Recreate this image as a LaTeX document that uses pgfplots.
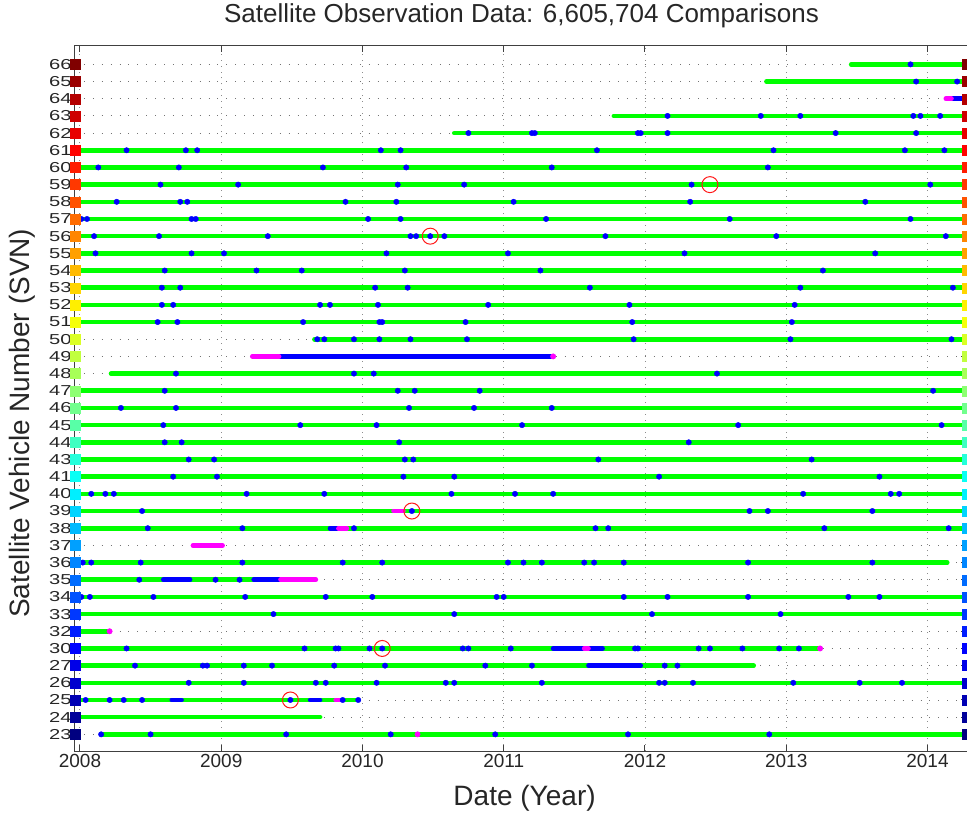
\documentclass[border=0pt]{standalone}
\usepackage{fontspec}
\setmainfont{Liberation Sans}
\newfontfamily\ytfont[FakeStretch=1.4]{Liberation Sans}
\usepackage{pgfplots}
\usepackage{pgfplotstable}
\pgfplotsset{compat=1.18}
\definecolor{txt}{rgb}{0.15,0.15,0.15}
\definecolor{lgreen}{rgb}{0,1,0}
\definecolor{dblue}{rgb}{0,0,1}
\definecolor{mag}{rgb}{1,0,1}
\pgfplotstableread{
y
0
1
2
3
4
5
6
7
8
9
10
11
12
13
14
15
16
17
18
19
20
21
22
23
24
25
26
27
28
29
30
31
32
33
34
35
36
37
38
39
}\rowidx
\begin{document}
\begin{tikzpicture}
\begin{axis}[
 scale only axis, width=892pt, height=705pt,
 xmin=2007.965, xmax=2014.28, ymin=-0.97, ymax=40.07,
 unbounded coords=jump,
 xtick={2008,2009,2010,2011,2012,2013,2014},
 xticklabels={2008,2009,2010,2011,2012,2013,2014},
 ytick={0,...,39},
 yticklabels={23,24,25,26,27,30,32,33,34,35,36,37,38,39,40,41,43,44,45,46,47,48,49,50,51,52,53,54,55,56,57,58,59,60,61,62,63,64,65,66},
 tick align=inside, major tick length=6pt,
 tick style={black!75, line width=1pt},
 axis line style={black!75, line width=1pt},
 xmajorgrids, ymajorgrids,
 x grid style={black!45, line width=0.9pt, dash pattern=on 0.9pt off 5pt},
 y grid style={black!55, line width=0.9pt, dash pattern=on 0.9pt off 8pt},
 xticklabel style={font=\fontsize{19}{22}\selectfont, text=txt},
 yticklabel style={font=\ytfont\fontsize{14.4}{16}\selectfont, text=txt},
 title={Satellite Observation Data: 6,605,704 Comparisons},
 title style={font=\fontsize{26}{30}\selectfont, text=txt, at={(axis description cs:0.5006,1.0255)}, anchor=base, inner sep=0pt},
 xlabel={Date (Year)}, ylabel={Satellite Vehicle Number (SVN)},
 xlabel style={font=\fontsize{28}{32}\selectfont, text=txt, at={(axis description cs:0.504,-0.0766)}, anchor=base, inner sep=0pt},
 ylabel style={font=\fontsize{28}{32}\selectfont, text=txt, at={(axis description cs:-0.0594,0.465)}, anchor=center, inner sep=0pt},
 colormap/jet, point meta min=0, point meta max=39,
]
% green observation spans
\addplot[lgreen, line width=4.6pt, line cap=round] table[x=x,y=y]{
x y
2013.46 39
2014.25 39
nan nan
2012.86 38
2014.25 38
nan nan
2011.78 36
2014.25 36
nan nan
2010.65 35
2014.25 35
nan nan
2008.0 34
2014.25 34
nan nan
2008.0 33
2014.25 33
nan nan
2008.0 32
2014.25 32
nan nan
2008.0 31
2014.25 31
nan nan
2008.0 30
2014.25 30
nan nan
2008.0 29
2014.25 29
nan nan
2008.0 28
2014.25 28
nan nan
2008.0 27
2014.25 27
nan nan
2008.0 26
2014.25 26
nan nan
2008.0 25
2014.25 25
nan nan
2008.0 24
2014.25 24
nan nan
2009.66 23
2014.25 23
nan nan
2008.22 21
2014.25 21
nan nan
2008.0 20
2014.25 20
nan nan
2008.0 19
2014.25 19
nan nan
2008.0 18
2014.25 18
nan nan
2008.0 17
2014.25 17
nan nan
2008.0 16
2014.25 16
nan nan
2008.0 15
2014.25 15
nan nan
2008.0 14
2014.25 14
nan nan
2008.0 13
2014.25 13
nan nan
2008.0 12
2014.25 12
nan nan
2008.0 10
2014.14 10
nan nan
2008.0 9
2009.30 9
nan nan
2008.0 8
2014.25 8
nan nan
2008.0 7
2014.25 7
nan nan
2008.0 6
2008.21 6
nan nan
2008.0 5
2013.24 5
nan nan
2008.0 4
2012.77 4
nan nan
2008.0 3
2014.25 3
nan nan
2008.0 2
2009.97 2
nan nan
2008.0 1
2009.70 1
nan nan
2008.15 0
2014.25 0
};
% blue spans
\addplot[dblue, line width=4.6pt, line cap=round] table[x=x,y=y]{
x y
2014.17 37
2014.25 37
nan nan
2009.41 22
2011.34 22
nan nan
2009.77 12
2009.83 12
nan nan
2008.59 9
2008.78 9
nan nan
2009.23 9
2009.42 9
nan nan
2011.35 5
2011.57 5
nan nan
2011.60 5
2011.70 5
nan nan
2011.60 4
2011.97 4
nan nan
2008.65 2
2008.72 2
nan nan
2009.63 2
2009.70 2
};
% magenta spans
\addplot[mag, line width=4.6pt, line cap=round] table[x=x,y=y]{
x y
2014.13 37
2014.17 37
nan nan
2009.22 22
2009.41 22
nan nan
2010.22 13
2010.29 13
nan nan
2009.83 12
2009.89 12
nan nan
2008.80 11
2009.01 11
nan nan
2009.42 9
2009.67 9
nan nan
2011.57 5
2011.60 5
nan nan
2009.81 2
2009.85 2
};
% blue points
\addplot[only marks, mark=*, mark size=2.7pt, mark options={draw=dblue, fill=dblue}] table[x=x,y=y]{
x y
2013.88 39
2013.92 38
2014.21 38
2012.16 36
2012.82 36
2013.10 36
2013.90 36
2013.95 36
2014.09 36
2010.75 35
2011.20 35
2011.22 35
2011.95 35
2011.97 35
2012.16 35
2013.35 35
2013.92 35
2008.33 34
2008.75 34
2008.83 34
2010.13 34
2010.27 34
2011.66 34
2012.91 34
2013.84 34
2014.12 34
2008.13 33
2008.70 33
2009.72 33
2010.31 33
2011.34 33
2012.87 33
2008.57 32
2009.12 32
2010.25 32
2010.72 32
2012.33 32
2014.02 32
2008.26 31
2008.71 31
2008.76 31
2009.88 31
2010.24 31
2011.07 31
2012.32 31
2013.56 31
2008.01 30
2008.05 30
2008.79 30
2008.82 30
2010.04 30
2010.27 30
2011.30 30
2012.60 30
2013.88 30
2008.10 29
2008.56 29
2009.33 29
2010.34 29
2010.38 29
2010.48 29
2010.58 29
2011.72 29
2012.93 29
2014.13 29
2008.11 28
2008.79 28
2009.02 28
2010.17 28
2011.03 28
2012.28 28
2013.63 28
2008.60 27
2009.25 27
2009.57 27
2010.30 27
2011.26 27
2013.26 27
2008.58 26
2008.71 26
2010.09 26
2010.32 26
2011.61 26
2013.10 26
2014.18 26
2008.58 25
2008.66 25
2009.70 25
2009.77 25
2010.11 25
2010.89 25
2011.89 25
2013.06 25
2008.55 24
2008.69 24
2009.58 24
2010.12 24
2010.14 24
2010.73 24
2011.91 24
2013.04 24
2009.68 23
2009.73 23
2009.94 23
2010.12 23
2010.34 23
2010.74 23
2011.92 23
2013.03 23
2014.17 23
2008.68 21
2009.94 21
2010.08 21
2012.51 21
2008.60 20
2010.25 20
2010.37 20
2010.83 20
2014.04 20
2008.29 19
2008.68 19
2010.33 19
2010.79 19
2011.34 19
2008.59 18
2009.56 18
2010.10 18
2011.13 18
2012.66 18
2014.10 18
2008.60 17
2008.72 17
2010.26 17
2012.31 17
2008.77 16
2008.95 16
2010.30 16
2010.36 16
2011.67 16
2013.18 16
2008.66 15
2008.97 15
2010.29 15
2010.65 15
2012.10 15
2013.66 15
2008.08 14
2008.18 14
2008.24 14
2009.18 14
2009.73 14
2010.63 14
2011.08 14
2011.35 14
2013.12 14
2013.74 14
2013.80 14
2008.44 13
2010.35 13
2012.74 13
2012.87 13
2013.61 13
2008.48 12
2009.15 12
2009.94 12
2011.65 12
2011.74 12
2013.27 12
2014.15 12
2008.02 10
2008.08 10
2008.43 10
2009.15 10
2009.86 10
2010.14 10
2011.03 10
2011.14 10
2011.27 10
2011.57 10
2011.64 10
2011.85 10
2012.73 10
2013.61 10
2008.42 9
2008.96 9
2009.13 9
2008.01 8
2008.07 8
2008.52 8
2009.17 8
2009.74 8
2010.07 8
2010.95 8
2011.00 8
2011.85 8
2012.16 8
2012.73 8
2013.44 8
2013.66 8
2009.37 7
2010.65 7
2012.05 7
2012.96 7
2008.33 5
2009.59 5
2009.81 5
2009.83 5
2010.05 5
2010.14 5
2010.71 5
2010.75 5
2011.05 5
2011.93 5
2011.95 5
2012.38 5
2012.46 5
2012.69 5
2012.95 5
2013.09 5
2008.39 4
2008.87 4
2008.90 4
2009.16 4
2009.36 4
2009.80 4
2010.16 4
2010.87 4
2011.20 4
2012.14 4
2012.23 4
2008.77 3
2009.16 3
2009.67 3
2009.74 3
2010.10 3
2010.59 3
2010.65 3
2011.27 3
2012.10 3
2012.14 3
2012.34 3
2013.05 3
2013.52 3
2013.82 3
2008.04 2
2008.21 2
2008.31 2
2008.44 2
2009.49 2
2009.86 2
2009.97 2
2008.15 0
2008.50 0
2009.46 0
2010.20 0
2010.94 0
2011.88 0
2012.88 0
};
% magenta points
\addplot[only marks, mark=*, mark size=2.7pt, mark options={draw=mag, fill=mag}] table[x=x,y=y]{
x y
2011.35 22
2008.21 6
2013.24 5
2010.39 0
};
% red circles
\addplot[only marks, mark=o, mark size=8pt, mark options={draw=red!90!white, line width=1pt}] table[x=x,y=y]{
x y
2012.46 32
2010.48 29
2010.35 13
2010.14 5
2009.49 2
};
% colour keys
\addplot[scatter, only marks, mark=square*, mark size=5pt, point meta=y,
 scatter/use mapped color={draw=mapped color, fill=mapped color}]
 table[x expr=2007.965, y=y]{\rowidx};
\addplot[scatter, only marks, mark=square*, mark size=5pt, point meta=y,
 scatter/use mapped color={draw=mapped color, fill=mapped color}]
 table[x expr=2014.28, y=y]{\rowidx};
\end{axis}
\pgfresetboundingbox
\path ([xshift=-75pt,yshift=-61pt]current axis.south west) rectangle ([yshift=46pt]current axis.north east);
\end{tikzpicture}
\end{document}
